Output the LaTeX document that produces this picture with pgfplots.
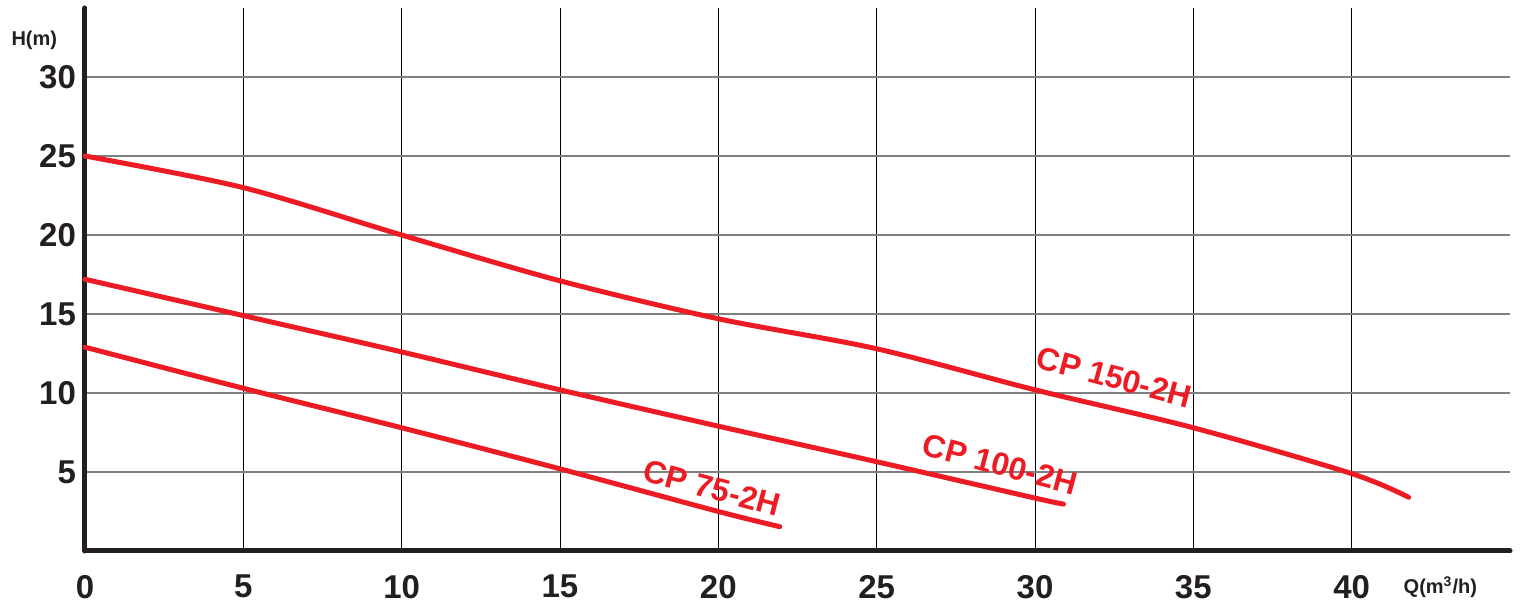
\documentclass[border=0pt]{standalone}
\usepackage{fontspec}
\setmainfont{Liberation Sans}
\usepackage{pgfplots}
\pgfplotsset{compat=1.18}
\definecolor{curve}{RGB}{237,28,36}
\definecolor{axisdark}{RGB}{35,31,32}
\begin{document}
\begin{tikzpicture}
\path[use as bounding box] (-42.5pt,-29.5pt) rectangle (718.5pt,275.5pt);
\begin{axis}[
    at={(0pt,0pt)}, anchor=origin,
    scale only axis,
    width=712.5pt, height=271.5pt,
    xmin=0, xmax=45, ymin=0, ymax=34.37,
    axis lines*=left,
    axis line style={-, line width=2.5pt, color=axisdark, line cap=round},
    xtick={0,5,...,40}, ytick={5,10,...,30},
    major tick length=0pt,
    grid=major,
    x grid style={black, line width=0.5pt},
    y grid style={gray, line width=0.7pt},
    tick label style={font=\bfseries\fontsize{16.5}{16.5}\selectfont, text=axisdark},
    /pgf/number format/assume math mode=true,
    xticklabel style={yshift=-8.5pt},
    yticklabel style={xshift=-1pt},
    clip=false,
]
% CP 150-2H
\addplot[curve, line width=2.5pt, smooth, line cap=round] coordinates {
  (0,25.0) (5,23.0) (10,20.0) (15,17.1) (20,14.7) (25,12.8) (30,10.2) (35,7.8) (40,4.9) (41.8,3.4)};
% CP 100-2H
\addplot[curve, line width=2.5pt, smooth, line cap=round] coordinates {
  (0,17.2) (5,14.9) (10,12.6) (15,10.2) (20,7.9) (25,5.65) (30,3.35) (30.9,2.97)};
% CP 75-2H
\addplot[curve, line width=2.5pt, smooth, line cap=round] coordinates {
  (0,12.9) (5,10.3) (10,7.8) (15,5.2) (20,2.5) (21.94,1.54)};
\node[text=curve, font=\bfseries\fontsize{16}{16}\selectfont, rotate=-15] at (axis cs:32.5,11.0) {CP 150-2H};
\node[text=curve, font=\bfseries\fontsize{16}{16}\selectfont, rotate=-15] at (axis cs:28.9,5.5) {CP 100-2H};
\node[text=curve, font=\bfseries\fontsize{16}{16}\selectfont, rotate=-15] at (axis cs:19.8,4.0) {CP 75-2H};
\node[text=axisdark, font=\bfseries\fontsize{10}{10}\selectfont] at (axis cs:-1.6,32.3) {H(m)};
\node[text=axisdark, font=\bfseries\fontsize{10}{10}\selectfont] at (axis cs:42.8,-2.3) {Q(m\textsuperscript{3}/h)};
\end{axis}
\end{tikzpicture}
\end{document}
